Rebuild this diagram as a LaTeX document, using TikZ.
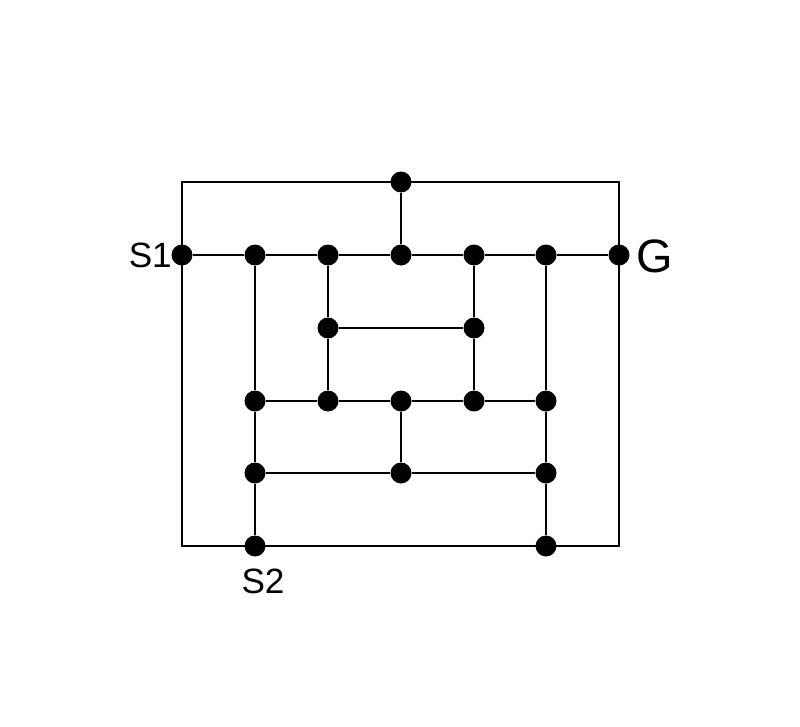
\documentclass[tikz,border=0pt]{standalone}
\usepackage{fontspec}
\setmainfont{Liberation Sans}
\begin{document}
\begin{tikzpicture}[x=0.03cm,y=-0.03cm,
  dot/.style={circle,fill=black,inner sep=0pt,minimum size=0.63cm},
  edge/.style={line width=0.045cm,black},
  lbl/.style={inner sep=0pt,font=\fontsize{30}{30}\selectfont},
  biglbl/.style={inner sep=0pt,font=\fontsize{40}{40}\selectfont}]
\useasboundingbox (0,0) rectangle (800,727);
% outer frame corners
\coordinate (tl) at (182,182);
\coordinate (tr) at (619,182);
\coordinate (bl) at (182,546);
\coordinate (br) at (619,546);
% nodes
\node[dot] (t) at (401,182) {};
\node[dot] (s1) at (182,255) {};
\node[dot] (a2) at (255,255) {};
\node[dot] (a3) at (328,255) {};
\node[dot] (a4) at (401,255) {};
\node[dot] (a5) at (474,255) {};
\node[dot] (a6) at (546,255) {};
\node[dot] (g) at (619,255) {};
\node[dot] (b3) at (328,328) {};
\node[dot] (b5) at (474,328) {};
\node[dot] (c2) at (255,401) {};
\node[dot] (c3) at (328,401) {};
\node[dot] (c4) at (401,401) {};
\node[dot] (c5) at (474,401) {};
\node[dot] (c6) at (546,401) {};
\node[dot] (d2) at (255,473) {};
\node[dot] (d4) at (401,473) {};
\node[dot] (d6) at (546,473) {};
\node[dot] (s2) at (255,546) {};
\node[dot] (e6) at (546,546) {};
% edges
\begin{scope}[on background layer/.style={}]
\draw[edge] (s1.center) -- (tl) -- (t.center) -- (tr) -- (g.center);
\draw[edge] (s1.center) -- (bl) -- (s2.center) -- (e6.center) -- (br) -- (g.center);
\draw[edge] (t) -- (a4);
\draw[edge] (s1) -- (a2) -- (a3) -- (a4) -- (a5) -- (a6) -- (g);
\draw[edge] (b3) -- (b5);
\draw[edge] (c2) -- (c3) -- (c4) -- (c5) -- (c6);
\draw[edge] (d2) -- (d4) -- (d6);
\draw[edge] (a2) -- (c2) -- (d2) -- (s2);
\draw[edge] (a3) -- (b3) -- (c3);
\draw[edge] (a5) -- (b5) -- (c5);
\draw[edge] (a6) -- (c6) -- (d6) -- (e6);
\draw[edge] (c4) -- (d4);
\end{scope}
% labels
\node[lbl,anchor=base east] (l1) at (172,267) {S1};
\node[biglbl,anchor=base west] (lg) at (636,272) {G};
\node[lbl,anchor=base] (l2) at (263,593) {S2};
\end{tikzpicture}
\end{document}
